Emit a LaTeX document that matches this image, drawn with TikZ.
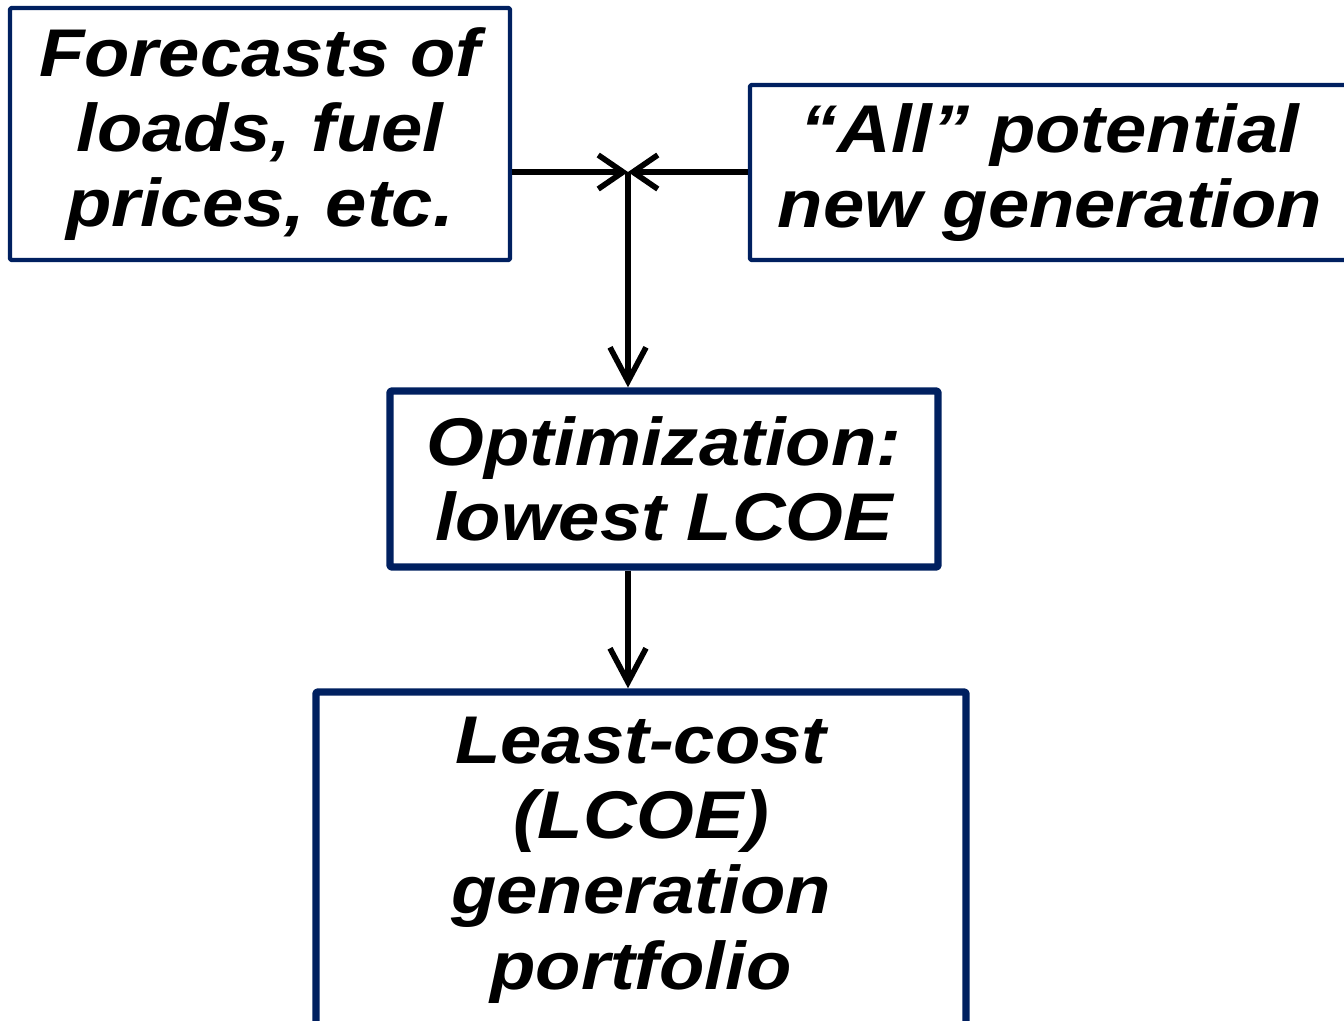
\documentclass[tikz,border=0pt]{standalone}
\usepackage{fontspec}
\setmainfont{Liberation Sans}[FakeStretch=1.1]
\usepackage{xcolor}
\usetikzlibrary{positioning, arrows.meta, calc}
\definecolor{boxblue}{HTML}{002060}

\begin{document}
\begin{tikzpicture}[
    x=0.025cm, y=-0.025cm,
    panel/.style={rectangle, draw=boxblue, line width=3pt, line join=round, rounded corners=1pt, fill=white, align=center, inner sep=0pt,
        font=\fontsize{48}{53.5}\selectfont\bfseries\itshape},
    thickpanel/.style={panel, line width=5.2pt},
    arrow/.style={-{Straight Barb[length=0.85cm, width=0.9cm]}, line width=4pt},
    inarrow/.style={-{Straight Barb[length=0.62cm, width=0.85cm]}, line width=4pt}
]
    \useasboundingbox (0,0) rectangle (1344,1021);

    % Nodes
    \node[panel, minimum width=12.5cm, minimum height=6.3cm] (fc) at (260,134) {Forecasts of\\loads, fuel\\prices, etc.};
    \node[panel, minimum width=15cm, minimum height=4.375cm] (all) at (1050,172.5) {“All” potential\\new generation};
    \node[thickpanel, minimum width=13.7cm, minimum height=4.4cm] (opt) at (664,479) {Optimization:\\lowest LCOE};
    \node[thickpanel, minimum width=16.25cm, minimum height=8.4cm] (least) at (641,860) {Least-cost\\(LCOE)\\generation\\portfolio};
    \coordinate (junc) at (628,172);

    % Arrows
    \draw[inarrow] (fc.east |- junc) -- (junc);
    \draw[inarrow] (all.west |- junc) -- (junc);
    \draw[arrow] (junc) -- (junc |- opt.north);
    \draw[arrow] (opt.south -| junc) -- (junc |- least.north);

\end{tikzpicture}
\end{document}
